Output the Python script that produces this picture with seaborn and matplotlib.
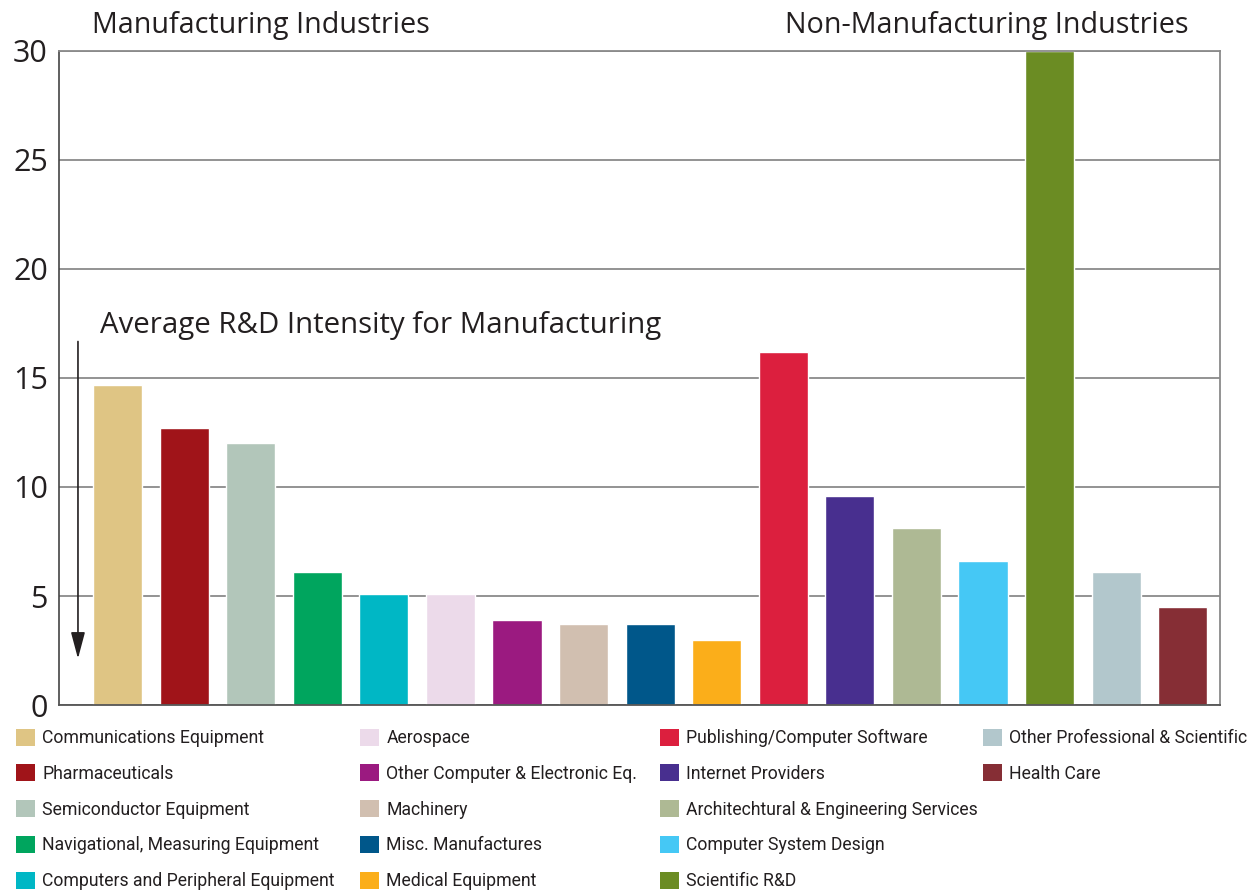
import matplotlib
matplotlib.use("Agg")
import matplotlib.pyplot as plt
from matplotlib.patches import Patch
import seaborn as sns
import pandas as pd

# R&D intensity by industry
industries = [
    "Communications Equipment", "Pharmaceuticals", "Semiconductor Equipment",
    "Navigational, Measuring Equipment", "Computers and Peripheral Equipment",
    "Aerospace", "Other Computer & Electronic Eq.", "Machinery",
    "Misc. Manufactures", "Medical Equipment",
    "Publishing/Computer Software", "Internet Providers",
    "Architechtural & Engineering Services", "Computer System Design",
    "Scientific R&D", "Other Professional & Scientific", "Health Care",
]
intensity = [14.7, 12.7, 12.0, 6.1, 5.1, 5.1, 3.9, 3.7, 3.7, 3.0,
             16.2, 9.6, 8.1, 6.6, 30.0, 6.1, 4.5]
colors = ["#DFC584", "#A01419", "#B2C6BA", "#00A55E", "#00B7C5",
          "#ECDAEA", "#9B1A80", "#D1BFB0", "#00578A", "#FBAE1A",
          "#DC1F3E", "#482F8F", "#AEB994", "#45C8F5", "#6B8C23",
          "#B2C7CC", "#862E35"]
y_ticks = [0, 5, 10, 15, 20, 25, 30]

df = pd.DataFrame({"industry": industries, "intensity": intensity})
palette = dict(zip(industries, colors))

sns.set_style("white")
narrow = ["Roboto", "Open Sans", "DejaVu Sans"]
plt.rcParams["font.family"] = ["Open Sans", "DejaVu Sans"]

fig = plt.figure(figsize=(12.5, 8.93), dpi=100)
ax = fig.add_axes([0.0472, 0.2105, 0.9288, 0.7325])

sns.barplot(data=df, x="industry", y="intensity", hue="industry",
            palette=palette, width=0.74, legend=False, saturation=1, ax=ax)

ax.set_ylim(0, 30)
ax.set_xlim(-0.88, 16.56)
ax.set_yticks(y_ticks)
ax.set_yticklabels([str(t) for t in y_ticks], fontsize=22, color="#231f20")
ax.set_xticks([])
ax.set_xlabel("")
ax.set_ylabel("")
ax.tick_params(axis="y", length=0, pad=8)
ax.yaxis.grid(True, color="#8a8a8a", linewidth=1.3)
ax.set_axisbelow(True)
for side in ["top", "right", "bottom"]:
    ax.spines[side].set_color("#8a8a8a")
    ax.spines[side].set_linewidth(1.3)
ax.spines["left"].set_color("#444444")
ax.spines["left"].set_linewidth(1.2)
ax.spines["bottom"].set_color("#555555")

# section headings
fig.text(0.0735, 0.972, "Manufacturing Industries", fontsize=20.7,
         color="#231f20", va="center")
fig.text(0.628, 0.972, "Non-Manufacturing Industries", fontsize=20.7,
         color="#231f20", va="center")

# average marker
ax.annotate("", xy=(-0.595, 2.0), xytext=(-0.595, 16.8),
            arrowprops=dict(arrowstyle="-|>,head_length=0.9,head_width=0.24",
                            color="#231f20", lw=1.2, mutation_scale=18))
ax.text(-0.264, 17.4, "Average R&D Intensity for Manufacturing",
        fontsize=21.2, color="#231f20", va="center", ha="left")

# legend, four columns
columns = [industries[0:5], industries[5:10], industries[10:15], industries[15:17]]
col_x = [0.0128, 0.288, 0.528, 0.786]
for names, x in zip(columns, col_x):
    handles = [Patch(facecolor=palette[n], edgecolor="none") for n in names]
    fig.legend(handles, names, loc="upper left", bbox_to_anchor=(x, 0.184),
               frameon=False, borderpad=0, borderaxespad=0,
               handlelength=1.1, handleheight=1.1, handletextpad=0.4,
               labelspacing=0.98,
               prop={"family": narrow, "size": 12.7}, labelcolor="#231f20")

fig.savefig("out.png", dpi=100)
